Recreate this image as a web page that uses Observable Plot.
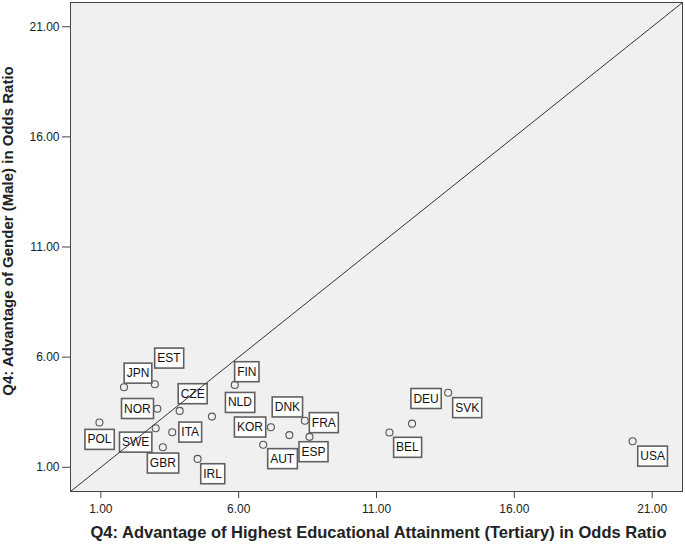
<!DOCTYPE html>
<html>
<head>
<meta charset="utf-8">
<script src="https://cdn.jsdelivr.net/npm/d3@7"></script>
<script src="https://cdn.jsdelivr.net/npm/@observablehq/plot@0.6"></script>
<style>
  html, body { margin: 0; padding: 0; background: #fff; }
  #chart svg { display: block; }
</style>
</head>
<body>
<div id="chart"></div>
<script>
// ---- data ----
const countries = ["POL","JPN","EST","NOR","CZE","NLD","FIN","SWE","ITA","GBR","IRL","KOR","AUT","DNK","FRA","ESP","BEL","DEU","SVK","USA"];
const eduOdds   = [0.95, 1.84, 2.96, 3.05, 3.86, 5.03, 5.86, 2.99, 3.59, 3.25, 4.51, 7.17, 6.89, 7.84, 8.40, 8.57, 11.47, 12.29, 13.60, 20.29];
const genderOdds= [3.03, 4.63, 4.77, 3.66, 3.56, 3.30, 4.74, 2.77, 2.59, 1.91, 1.38, 2.82, 2.02, 2.46, 3.11, 2.38, 2.58, 2.98, 4.38, 2.18];
const tickValues = [1, 6, 11, 16, 21];
const axisDomain = [-0.1, 22.1];
const xTitle = "Q4: Advantage of Highest Educational Attainment (Tertiary) in Odds Ratio";
const yTitle = "Q4: Advantage of Gender (Male) in Odds Ratio";

// ---- layout: label offsets in pixels (dx, dy) relative to each point ----
const labelOffsets = [
  [0, 17], [14, -14], [14, -26], [-20, 0], [13, -17], [28, -14], [12, -13], [-20, 14],
  [18, 0], [0, 16], [15, 15], [-21, 0], [19, 14], [-2, -28], [19, 2], [4, 15],
  [18, 15], [14, -25], [19, 15], [20, 15]
];

const rows = countries.map((c, i) => ({country: c, edu: eduOdds[i], gender: genderOdds[i]}));

const labelMarks = rows.map((d, i) => Plot.text([d], {
  x: "edu", y: "gender", text: "country",
  dx: labelOffsets[i][0], dy: labelOffsets[i][1],
  fontSize: 12, fill: "#111"
}));

const fmt = d3.format(".2f");

const chart = Plot.plot({
  width: 685,
  height: 547,
  marginLeft: 70,
  marginRight: 3,
  marginTop: 2,
  marginBottom: 56,
  style: {fontFamily: "'Liberation Sans', Arial, sans-serif", fontSize: "12px", color: "#222", background: "#fff"},
  x: {domain: axisDomain},
  y: {domain: axisDomain},
  marks: [
    Plot.frame({fill: "#f0f0f0", stroke: null}),
    Plot.axisX({ticks: tickValues, tickFormat: fmt, label: null, tickSize: 7, tickPadding: 6, fontSize: 12, stroke: "#444", fill: "#222"}),
    Plot.axisY({ticks: tickValues, tickFormat: fmt, label: null, tickSize: 8, tickPadding: 3, fontSize: 12, stroke: "#444", fill: "#222"}),
    Plot.dot(rows, {x: "edu", y: "gender", r: 3.5, stroke: "#555", strokeWidth: 1.1, fill: "none"}),
    ...labelMarks,
    Plot.link([axisDomain], {x1: d => d[0], y1: d => d[0], x2: d => d[1], y2: d => d[1], stroke: "#333", strokeWidth: 1}),
    Plot.frame({stroke: "#444", strokeWidth: 1}),
    Plot.text([xTitle], {text: d => d, frameAnchor: "bottom", textAnchor: "middle", lineAnchor: "middle", dx: 2, dy: 41, fontSize: 16.5, fontWeight: "bold", fill: "#222"}),
    Plot.text([yTitle], {text: d => d, frameAnchor: "left", textAnchor: "middle", lineAnchor: "middle", dx: -62, dy: -16, rotate: -90, fontSize: 15, fontWeight: "bold", fill: "#222"})
  ]
});

document.getElementById("chart").appendChild(chart);

// draw boxes behind the country labels
d3.select(chart).selectAll("text")
  .filter(function() { return countries.includes(this.textContent); })
  .each(function() {
    const bb = this.getBBox();
    const padX = 2.5;
    const rect = document.createElementNS("http://www.w3.org/2000/svg", "rect");
    rect.setAttribute("x", bb.x - padX);
    rect.setAttribute("y", bb.y + bb.height / 2 - 10);
    rect.setAttribute("width", bb.width + 2 * padX);
    rect.setAttribute("height", 20);
    rect.setAttribute("fill", "#fff");
    rect.setAttribute("stroke", "#606060");
    rect.setAttribute("stroke-width", 1.6);
    const t = this.getAttribute("transform");
    if (t) rect.setAttribute("transform", t);
    this.parentNode.insertBefore(rect, this);
  });
</script>
</body>
</html>
